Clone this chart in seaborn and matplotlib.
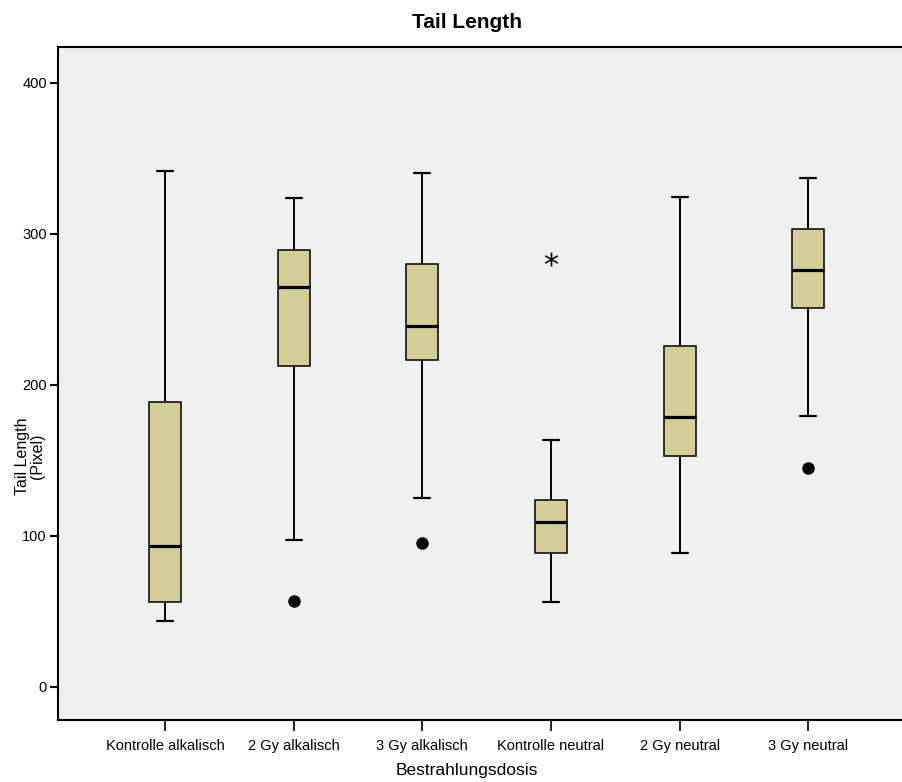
import matplotlib
matplotlib.use("Agg")
import matplotlib.pyplot as plt
import seaborn as sns
import pandas as pd

# Five-number summaries per group: lower whisker, Q1, median, Q3, upper whisker
groups = ["Kontrolle alkalisch", "2 Gy alkalisch", "3 Gy alkalisch",
          "Kontrolle neutral", "2 Gy neutral", "3 Gy neutral"]
whisker_low = [43.7, 97.4, 125.2, 56.3, 88.7, 179.5]
q1 = [56.3, 212.6, 216.6, 88.7, 153.0, 251.0]
median = [93.4, 264.9, 239.1, 109.3, 178.8, 276.2]
q3 = [188.7, 289.4, 280.1, 123.8, 225.8, 303.3]
whisker_high = [341.7, 323.8, 340.4, 163.6, 324.5, 337.1]

# Outliers (circles) and extreme values (asterisks)
outlier_groups = ["2 Gy alkalisch", "3 Gy alkalisch", "3 Gy neutral"]
outlier_values = [57.0, 95.4, 145.0]
extreme_groups = ["Kontrolle neutral"]
extreme_values = [283.4]

rows = []
for g, a, b, c, d, e in zip(groups, whisker_low, q1, median, q3, whisker_high):
    for v in (a, b, c, d, e):
        rows.append({"Bestrahlungsdosis": g, "Tail Length": v})
df = pd.DataFrame(rows)
df_out = pd.DataFrame({"Bestrahlungsdosis": outlier_groups, "Tail Length": outlier_values})
df_ext = pd.DataFrame({"Bestrahlungsdosis": extreme_groups, "Tail Length": extreme_values})

sns.set_style("white")
plt.rcParams["font.family"] = ["Liberation Sans", "DejaVu Sans"]
plt.rcParams["text.color"] = "black"
plt.rcParams["axes.labelcolor"] = "black"
plt.rcParams["xtick.color"] = "black"
plt.rcParams["ytick.color"] = "black"

fig = plt.figure(figsize=(9.03, 7.82), dpi=100)
ax = fig.add_axes([58 / 903, 62 / 782, 857 / 903, 673 / 782])
ax.set_facecolor("#F0F0F0")

box_color = "#D3CE97"
sns.boxplot(data=df, x="Bestrahlungsdosis", y="Tail Length", order=groups,
            whis=(0, 100), width=0.25, color=box_color, saturation=1,
            linecolor="black", linewidth=1.1, fliersize=0,
            medianprops=dict(color="black", linewidth=2.3),
            whiskerprops=dict(color="black", linewidth=1.4),
            capprops=dict(color="black", linewidth=1.6),
            boxprops=dict(edgecolor="black", linewidth=1.1),
            ax=ax)
sns.stripplot(data=df_out, x="Bestrahlungsdosis", y="Tail Length", order=groups,
              jitter=False, color="black", size=9, marker="o", ax=ax)
sns.stripplot(data=df_ext, x="Bestrahlungsdosis", y="Tail Length", order=groups,
              jitter=False, color="black", size=10, marker="$*$",
              linewidth=0, ax=ax)

ax.set_xlim(-0.832, 5.83)
ax.set_ylim(-21.9, 423.8)
ax.set_yticks([0, 100, 200, 300, 400])
ax.tick_params(axis="y", direction="out", length=6, width=1.5, labelsize=10.5, pad=2,
               left=True, colors="black")
ax.tick_params(axis="x", direction="out", length=8, width=1.2, labelsize=10.5, pad=6,
               bottom=True, colors="black")
for side in ("left", "bottom", "top"):
    ax.spines[side].set_visible(True)
    ax.spines[side].set_color("black")
    ax.spines[side].set_linewidth(1.5)
ax.spines["right"].set_visible(False)

ax.set_xlabel("")
ax.set_ylabel("")
fig.text(467 / 903, 1 - 771 / 782, "Bestrahlungsdosis", ha="center", va="center",
         fontsize=12.5, color="black")
fig.text(30 / 903, 1 - 456 / 782, "Tail Length\n(Pixel)", ha="center", va="center",
         rotation=90, fontsize=11.5, linespacing=1.0, color="black")
fig.text(467 / 903, 1 - 22 / 782, "Tail Length", ha="center", va="center",
         fontsize=15, fontweight="bold", color="black")

fig.savefig("out.png", dpi=100)
